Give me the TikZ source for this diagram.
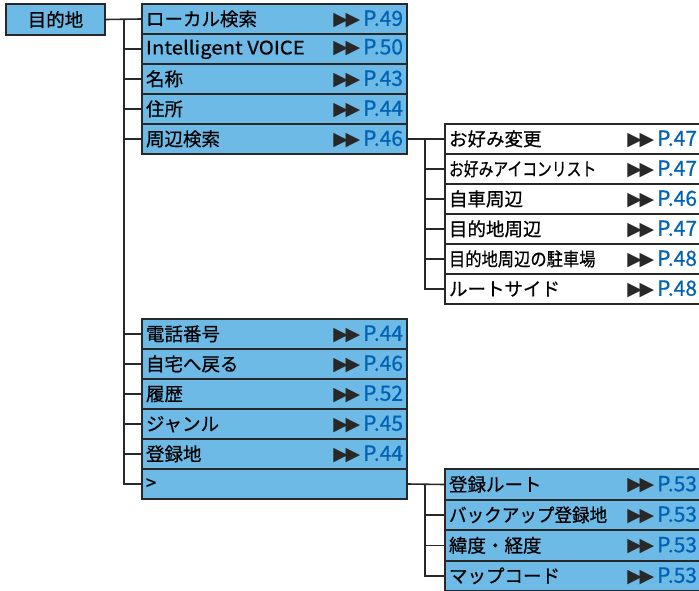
\documentclass[tikz,border=0pt]{standalone}
\usepackage{fontspec}
\usepackage{graphicx}
\setmainfont{Noto Sans CJK JP}[FakeBold=0.6]
\newfontfamily\symfont{DejaVu Sans}
\definecolor{boxblue}{RGB}{110,186,231}
\definecolor{pgblue}{RGB}{0,98,178}
\definecolor{lineg}{RGB}{40,40,40}
\newcommand{\ff}{{\symfont\fontsize{19}{19}\selectfont\color{lineg}\raisebox{0.5pt}{▶\kern-2.5pt▶}}}
\newcommand{\pg}[1]{\textcolor{pgblue}{\fontsize{21}{21}\selectfont P.#1}}
\newcommand{\entry}[3]{\hbox to #1{#2\hfill\ff\hspace{3pt}\pg{#3}}}

\begin{document}
\begin{tikzpicture}[x=1pt,y=-1pt,
  box/.style={draw=lineg,line width=1.6pt,rectangle,inner xsep=4pt,inner ysep=0pt,
    minimum height=30pt,font=\fontsize{18.5}{18.5}\selectfont},
  mainbox/.style={box,fill=boxblue,minimum width=265pt},
  subbox/.style={box,fill=white,minimum width=256pt},
  link/.style={draw=lineg,line width=1.6pt}]
\useasboundingbox (0,0) rectangle (699,591);
% ---- root ----
\node[box,fill=boxblue,minimum width=99pt,minimum height=31pt] (root) at (55.5,19.5) {目的地};
% ---- main column ----
\node[mainbox] (m1) at (274.5,19) {\entry{257pt}{ローカル検索}{49}};
\node[mainbox] (m2) at (274.5,49) {\entry{257pt}{\scalebox{1.1}[1]{Intelligent VOICE}}{50}};
\node[mainbox] (m3) at (274.5,79) {\entry{257pt}{名称}{43}};
\node[mainbox] (m4) at (274.5,109) {\entry{257pt}{住所}{44}};
\node[mainbox] (m5) at (274.5,139) {\entry{257pt}{周辺検索}{46}};
\node[mainbox] (m6) at (274.5,334) {\entry{257pt}{電話番号}{44}};
\node[mainbox] (m7) at (274.5,364) {\entry{257pt}{自宅へ戻る}{46}};
\node[mainbox] (m8) at (274.5,394) {\entry{257pt}{履歴}{52}};
\node[mainbox] (m9) at (274.5,424) {\entry{257pt}{ジャンル}{45}};
\node[mainbox] (m10) at (274.5,454) {\entry{257pt}{登録地}{44}};
\node[mainbox] (m11) at (274.5,484) {\hbox to 257pt{>\hfill}};
% ---- sub column (周辺検索) ----
\node[subbox] (s1) at (573,139) {\entry{248pt}{お好み変更}{47}};
\node[subbox] (s2) at (573,169) {\entry{248pt}{\scalebox{0.8}[1]{お好みアイコンリスト}}{47}};
\node[subbox] (s3) at (573,199) {\entry{248pt}{自車周辺}{46}};
\node[subbox] (s4) at (573,229) {\entry{248pt}{目的地周辺}{47}};
\node[subbox] (s5) at (573,259) {\entry{248pt}{\scalebox{0.88}[1]{目的地周辺の駐車場}}{48}};
\node[subbox] (s6) at (573,289) {\entry{248pt}{ルートサイド}{48}};
% ---- sub column (>) ----
\node[subbox,fill=boxblue,minimum height=30.5pt] (q1) at (573,484.5) {\entry{248pt}{登録ルート}{53}};
\node[subbox,fill=boxblue,minimum height=30.5pt] (q2) at (573,515) {\entry{248pt}{\scalebox{0.95}[1]{バックアップ登録地}}{53}};
\node[subbox,fill=boxblue,minimum height=30.5pt] (q3) at (573,545.5) {\entry{248pt}{緯度・経度}{53}};
\node[subbox,fill=boxblue,minimum height=30.5pt] (q4) at (573,576) {\entry{248pt}{マップコード}{53}};
% ---- tree lines ----
\coordinate (t) at (124,0);
\coordinate (u) at (425,0);
\draw[link] (root.east) -- (m1.west);
\draw[link] (t |- m1.west) |- (m11.west);
\foreach \i in {2,...,10} \draw[link] (t |- m\i.west) -- (m\i.west);
\draw[link] (m5.east) -- (s1.west);
\draw[link] (u |- s1.west) |- (s6.west);
\foreach \i in {2,...,5} \draw[link] (u |- s\i.west) -- (s\i.west);
\draw[link] (m11.east) -- (q1.west);
\draw[link] (u |- q1.west) |- (q4.west);
\foreach \i in {2,3} \draw[link] (u |- q\i.west) -- (q\i.west);
\end{tikzpicture}
\end{document}
